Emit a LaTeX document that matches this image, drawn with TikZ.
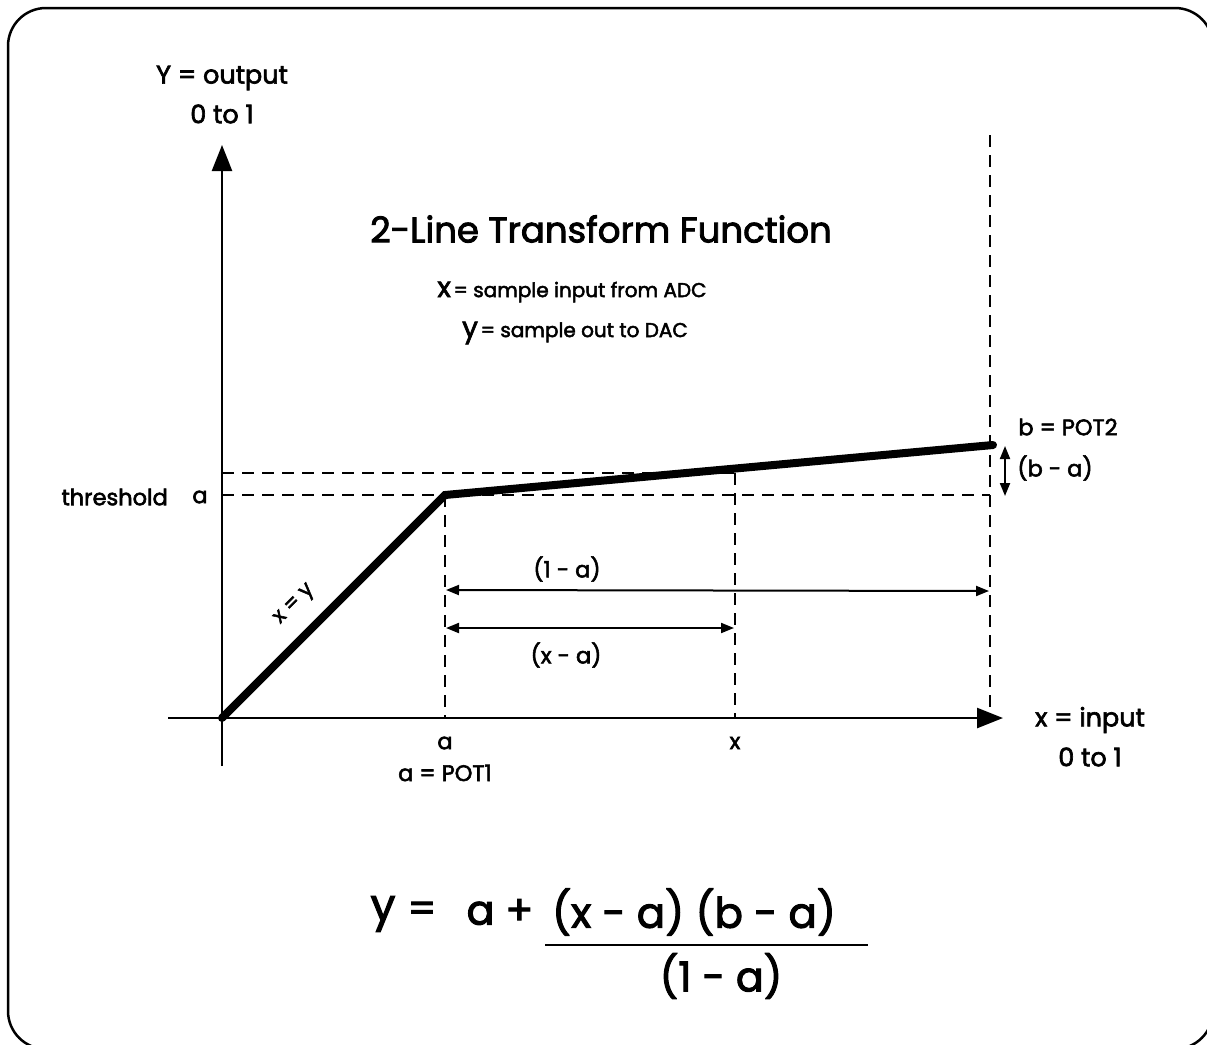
\documentclass[tikz,border=0pt]{standalone}
\usepackage{fontspec}
\setmainfont{Poppins}[FakeBold=2.5]
\usetikzlibrary{arrows.meta}
\newcommand{\fs}[1]{\fontsize{#1}{#1}\selectfont}
\begin{document}
\begin{tikzpicture}[x=1pt,y=-1pt,
  axisline/.style={line width=2.5pt,-{Triangle[length=26pt,width=20pt]}},
  dashline/.style={line width=2pt,dash pattern=on 12pt off 8pt},
  dimline/.style={line width=2pt,{Triangle[length=13pt,width=10pt]}-{Triangle[length=13pt,width=10pt]}},
  lbl/.style={inner sep=0pt,font=\fs{22.5}},
  biglbl/.style={inner sep=0pt,font=\fs{25.5}}]
\useasboundingbox (0,0) rectangle (1207,1044);
\begin{scope}
\clip (0,0) rectangle (1207,1044);
\draw[line width=2.5pt, rounded corners=38pt] (8,8) rectangle (1213,1049);
\end{scope}

% key points
\coordinate (O) at (222,718);
\coordinate (A) at (445,495);
\coordinate (B) at (993,445);
\coordinate (yb) at (222,766);
\coordinate (yt) at (222,145);
\coordinate (xl) at (168,718);
\coordinate (xr) at (1003,718);

% dashed guides
\coordinate (thL) at (222,495);
\coordinate (thR) at (990,495);
\coordinate (upL) at (222,473);
\coordinate (upR) at (735,473);
\coordinate (aT) at (445,495);
\coordinate (aB) at (445,718);
\coordinate (xT) at (735,473);
\coordinate (xB) at (735,718);
\coordinate (bT) at (990,135);
\coordinate (bB) at (990,718);
\draw[dashline] (thL) -- (thR);
\draw[dashline] (upL) -- (upR);
\draw[dashline] (aT) -- (aB);
\draw[dashline] (xT) -- (xB);
\draw[dashline] (bT) -- (bB);

% axes
\draw[axisline] (yb) -- (yt);
\draw[axisline] (xl) -- (xr);

% transfer curve
\draw[line width=8pt, line cap=round, line join=miter] (O) -- (A) -- (B);

% dimension arrows
\coordinate (d1L) at (446,590);
\coordinate (d1R) at (989,591);
\coordinate (d2L) at (446,628);
\coordinate (d2R) at (734,628);
\coordinate (d3T) at (1005,446);
\coordinate (d3B) at (1005,496);
\draw[dimline] (d1L) -- (d1R);
\draw[dimline] (d2L) -- (d2R);
\draw[dimline] (d3T) -- (d3B);

% labels
\node[biglbl] (yax) at (222,78) {Y = output};
\node[biglbl] (yax2) at (222,114) {0 to 1};
\node[biglbl] (xax) at (1090,720) {x = input};
\node[biglbl] (xax2) at (1090,757) {0 to 1};
\node[inner sep=0pt,font=\fs{35.5}] (title) at (601,229) {2-Line Transform Function};
\node[inner sep=0pt] (lx) at (572,292) {{\fs{28}x} {\fs{20}= sample input from ADC}};
\node[inner sep=0pt] (ly) at (575,333) {{\fs{28}y} {\fs{20}= sample out to DAC}};
\node[lbl,anchor=east] (thr) at (168,497) {threshold};
\node[lbl] (tha) at (200,497) {a};
\node[lbl] (bpot) at (1068,427) {b = POT2};
\node[lbl] (bma) at (1055,468) {(b - a)};
\node[lbl] (oma) at (567,569) {(1 - a)};
\node[lbl] (xma) at (566,655) {(x - a)};
\node[lbl] (ta) at (445,743) {a};
\node[lbl] (apot) at (445,773) {a = POT1};
\node[lbl] (tx) at (735,743) {x};
\node[inner sep=0pt,rotate=45,font=\fs{21}] (xeqy) at (295,605) {x = y};

% formula
\node[inner sep=0pt,font=\fs{44}] (fy) at (383,914) {y};
\node[inner sep=0pt,font=\fs{40}] (feq) at (422,912) {=};
\node[inner sep=0pt,font=\fs{41}] (fa) at (500,912) {a +};
\node[inner sep=0pt,font=\fs{42}] (fnum) at (694,912) {(x - a) (b - a)};
\node[inner sep=0pt,font=\fs{41}] (fden) at (721,976) {(1 - a)};
\coordinate (fL) at (545,945);
\coordinate (fR) at (868,945);
\draw[line width=2.5pt] (fL) -- (fR);
\end{tikzpicture}
\end{document}
